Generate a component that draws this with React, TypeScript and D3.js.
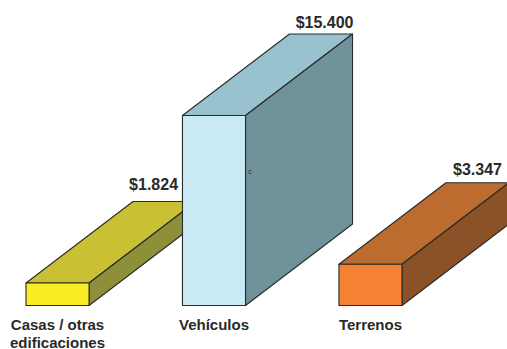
import React from "react";
import * as d3 from "d3";

const categories = ["Casas / otras|edificaciones", "Vehículos", "Terrenos"];
const values = [1824, 15400, 3347];
const valueLabels = ["$1.824", "$15.400", "$3.347"];
const frontColors = ["#f9ec23", "#c9e9f5", "#f58233"];
const topColors = ["#c9c033", "#97c2ce", "#bc6c2e"];
const sideColors = ["#8d9038", "#6f929b", "#8b5227"];
const drawOrder = [0, 2, 1];
const labelShiftX = [-18, 1, -7];
const labelShiftY = [-11.5, -6.5, -8];

const W = 507;
const H = 349;
const DX = 107;
const DY = -81.5;
const INK = "#2a2a2a";
const FONT = "'Liberation Sans', Arial, sans-serif";

const x = d3.scaleBand<string>().domain(categories).range([26, 402]).paddingInner(0.597).paddingOuter(0);
const y = d3.scaleLinear().domain([0, 15400]).range([305.5, 115.5]);

function poly(points: [number, number][]) {
  const p = d3.path();
  points.forEach(([a, b], i) => (i ? p.lineTo(a, b) : p.moveTo(a, b)));
  p.closePath();
  return p.toString();
}

export default function App() {
  const bw = x.bandwidth();
  return (
    <svg width={W} height={H} viewBox={`0 0 ${W} ${H}`} style={{ position: "absolute", left: 0, top: 0, background: "#fff" }}>
      {drawOrder.map((i) => {
        const x0 = x(categories[i]) as number;
        const x1 = x0 + bw;
        const yT = y(values[i]);
        const yB = y(0);
        return (
          <g key={i} stroke={INK} strokeWidth={1.1} strokeLinejoin="round">
            <path d={poly([[x0, yT], [x1, yT], [x1 + DX, yT + DY], [x0 + DX, yT + DY]])} fill={topColors[i]} />
            <path d={poly([[x1, yT], [x1 + DX, yT + DY], [x1 + DX, yB + DY], [x1, yB]])} fill={sideColors[i]} />
            <rect x={x0} y={yT} width={bw} height={yB - yT} fill={frontColors[i]} />
          </g>
        );
      })}
      {categories.map((c, i) => {
        const x0 = x(c) as number;
        const yT = y(values[i]);
        return (
          <text key={c} x={x0 + bw + DX + labelShiftX[i]} y={yT + DY + labelShiftY[i]} textAnchor="end" fontFamily={FONT} fontWeight={700} fontSize={16} fill={INK}>
            {valueLabels[i]}
          </text>
        );
      })}
      {categories.map((c, i) => {
        const cx = (x(c) as number) + bw / 2;
        return c.split("|").map((line, k) => (
          <text key={line} x={cx} y={329.5 + k * 18.5} textAnchor="middle" fontFamily={FONT} fontWeight={700} fontSize={15} fill={INK}>
            {line}
          </text>
        ));
      })}
      <text x={250} y={174} textAnchor="middle" fontFamily={FONT} fontSize={7} fill={INK}>c</text>
    </svg>
  );
}
